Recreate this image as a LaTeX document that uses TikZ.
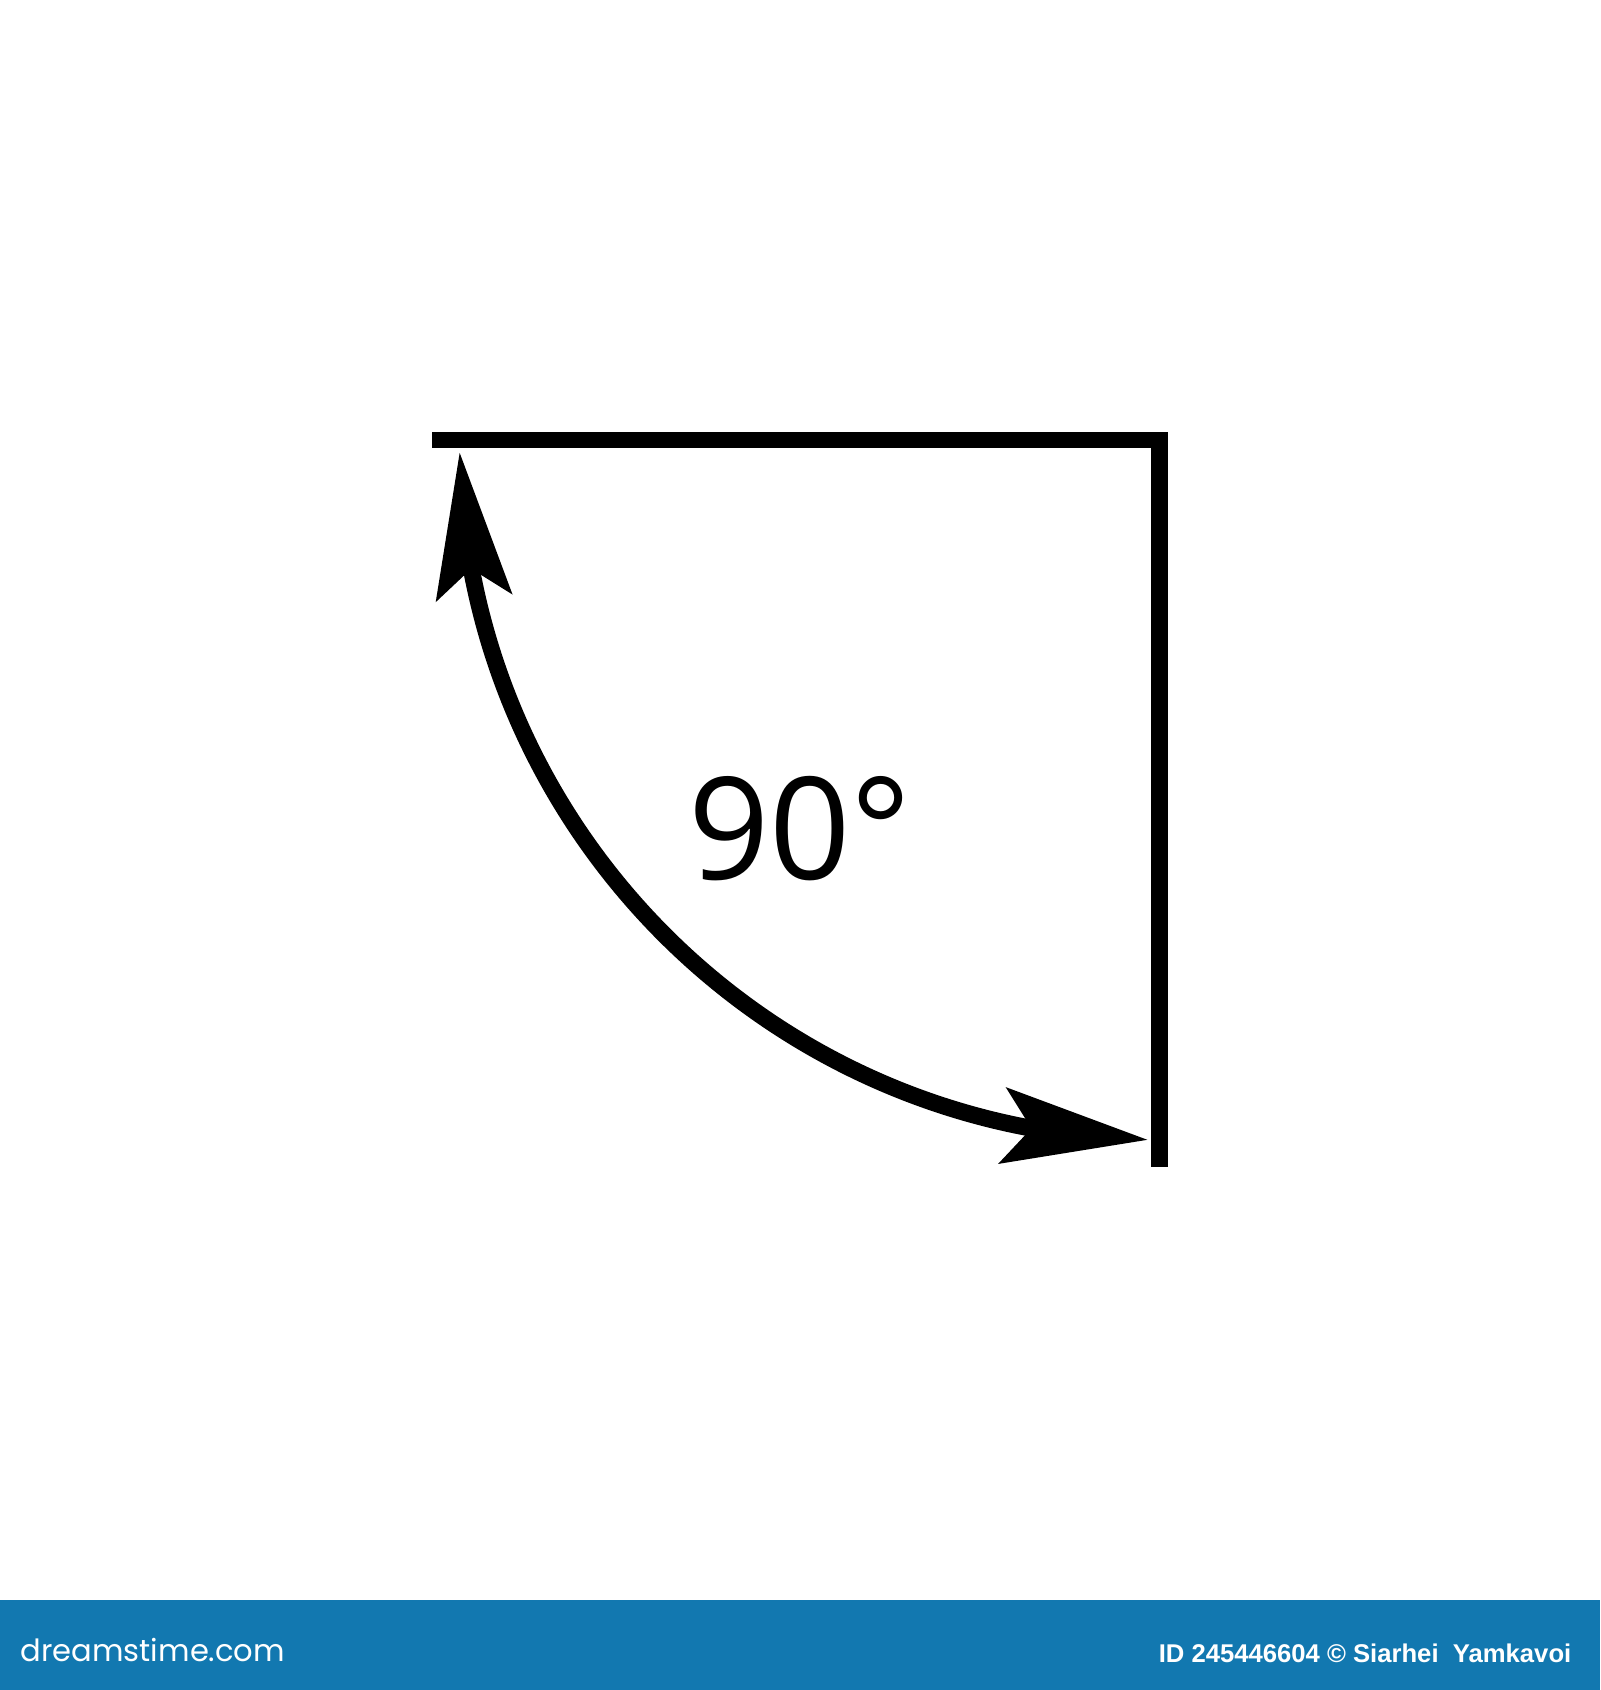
\documentclass[tikz,border=0pt]{standalone}
\usepackage{fontspec}
\usetikzlibrary{arrows.meta, bending}
\newfontfamily\anglefont{Open Sans}
\newfontfamily\logofont{Poppins}
\newfontfamily\creditfont{Liberation Sans}
\definecolor{bannerblue}{RGB}{18,120,176}
\tikzstyle{leg} = [line width=4.8pt, line join=miter]
\tikzstyle{sweep} = [line width=4.8pt, {Stealth[length=14.5mm, width=7.5mm, inset=2.8mm]}-{Stealth[length=14.5mm, width=7.5mm, inset=2.8mm]}]
\tikzstyle{degrees} = [font=\anglefont\fontsize{40.5}{40.5}\selectfont, anchor=base, inner sep=0pt]
\tikzstyle{banner} = [fill=bannerblue, draw=none]

\begin{document}
\begin{tikzpicture}
\useasboundingbox (0,0) rectangle (16,16.9);
  % Define the points
\coordinate (corner) at (11.595,12.5);
\coordinate (topend) at (4.32,12.5);
\coordinate (bottomend) at (11.595,5.23);
\node (label) [degrees] at (8.0,8.1) {90°};

% Draw the angle
\draw [leg] (topend) -- (corner) -- (bottomend);
\draw [sweep] ([shift={(181:7)}]corner) arc[start angle=181, end angle=269.06, radius=7];

% Draw the banner
\fill [banner] (0,0) rectangle (16,0.9);
\node (site) [anchor=base west, inner sep=0pt, text=white, font=\logofont\fontsize{8.7}{10}\selectfont] at (0.2,0.28) {dreamstime.com};
\node (credit) [anchor=base east, inner sep=0pt, text=white, font=\creditfont\bfseries\fontsize{7.3}{8}\selectfont] at (15.72,0.27) {ID 245446604 © Siarhei\ \ Yamkavoi};

\end{tikzpicture}
\end{document}
